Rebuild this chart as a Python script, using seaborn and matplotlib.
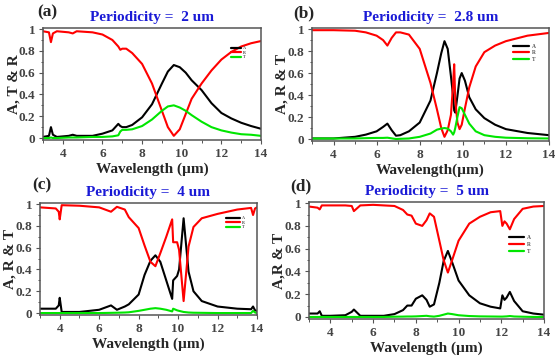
import numpy as np
import pandas as pd
import matplotlib
matplotlib.use('Agg')
import matplotlib.pyplot as plt
from matplotlib.ticker import MultipleLocator, AutoMinorLocator
import seaborn as sns

# ---- data ----
# (a) periodicity 2 um
wl_a = [3.0, 3.3, 3.4, 3.5, 3.7, 4.3, 4.5, 4.7, 5.5, 6.0, 6.5, 6.8, 6.9, 7.0, 7.2, 7.5,
        8.0, 8.5, 9.0, 9.3, 9.6, 9.9, 10.2, 10.5, 11.0, 11.5, 12.0, 12.5, 13.0, 13.5, 14.0]
A_a = [0.01, 0.02, 0.10, 0.03, 0.01, 0.02, 0.03, 0.02, 0.02, 0.04, 0.07, 0.13, 0.11, 0.10, 0.10, 0.12,
       0.19, 0.31, 0.50, 0.61, 0.67, 0.65, 0.60, 0.53, 0.44, 0.32, 0.23, 0.18, 0.14, 0.11, 0.085]
R_a = [0.98, 0.97, 0.88, 0.96, 0.98, 0.97, 0.96, 0.98, 0.97, 0.95, 0.90, 0.84, 0.81, 0.82, 0.82, 0.78,
       0.68, 0.50, 0.25, 0.10, 0.02, 0.08, 0.22, 0.36, 0.50, 0.62, 0.72, 0.79, 0.84, 0.87, 0.89]
T_a = [0.0, 0.0, 0.005, 0.0, 0.0, 0.005, 0.005, 0.005, 0.01, 0.01, 0.015, 0.025, 0.06, 0.075, 0.075, 0.08,
       0.11, 0.17, 0.25, 0.29, 0.30, 0.28, 0.25, 0.21, 0.15, 0.10, 0.07, 0.05, 0.035, 0.03, 0.02]

# (b) periodicity 2.8 um
wl_b = [3.0, 4.0, 5.0, 5.5, 6.0, 6.3, 6.5, 6.7, 6.9, 7.1, 7.5, 8.0, 8.5, 8.8, 9.0, 9.15,
        9.3, 9.45, 9.55, 9.6, 9.65, 9.75, 9.85, 9.95, 10.1, 10.3, 10.6, 11.0, 11.5, 12.0, 13.0, 14.0]
A_b = [0.005, 0.005, 0.02, 0.04, 0.07, 0.11, 0.14, 0.08, 0.03, 0.035, 0.07, 0.15, 0.35, 0.6, 0.78, 0.89,
       0.82, 0.57, 0.39, 0.26, 0.24, 0.39, 0.55, 0.60, 0.53, 0.38, 0.27, 0.19, 0.13, 0.09, 0.055, 0.035]
R_b = [0.99, 0.99, 0.985, 0.97, 0.94, 0.90, 0.85, 0.92, 0.97, 0.97, 0.95, 0.82, 0.51, 0.27, 0.10, 0.02,
       0.08, 0.22, 0.50, 0.68, 0.36, 0.15, 0.09, 0.13, 0.28, 0.47, 0.66, 0.79, 0.85, 0.89, 0.94, 0.965]
T_b = [0.005, 0.005, 0.005, 0.008, 0.01, 0.01, 0.012, 0.006, 0.0, 0.002, 0.005, 0.02, 0.05, 0.085, 0.095, 0.1,
       0.095, 0.07, 0.04, 0.06, 0.1, 0.2, 0.29, 0.28, 0.22, 0.14, 0.07, 0.035, 0.02, 0.012, 0.007, 0.005]

# (c) periodicity 4 um
wl_c = [3.0, 3.8, 3.95, 4.0, 4.1, 5.0, 6.0, 6.6, 6.9, 7.3, 7.5, 8.0, 8.3, 8.6, 8.85, 9.1,
        9.4, 9.7, 9.75, 9.95, 10.05, 10.28, 10.53, 10.78, 11.2, 12.0, 13.0, 13.7, 13.8, 13.9, 14.0]
A_c = [0.04, 0.04, 0.07, 0.14, 0.01, 0.01, 0.03, 0.07, 0.03, 0.06, 0.08, 0.17, 0.35, 0.48, 0.53, 0.47,
       0.30, 0.13, 0.30, 0.34, 0.40, 0.87, 0.38, 0.20, 0.11, 0.06, 0.04, 0.035, 0.06, 0.025, 0.02]
R_c = [0.97, 0.96, 0.93, 0.86, 0.99, 0.985, 0.97, 0.93, 0.975, 0.95, 0.88, 0.78, 0.62, 0.47, 0.43, 0.55,
       0.70, 0.86, 0.65, 0.65, 0.58, 0.11, 0.61, 0.79, 0.87, 0.91, 0.95, 0.965, 0.90, 0.96, 0.97]
T_c = [0.0, 0.0, 0.0, 0.0, 0.0, 0.0, 0.0, 0.002, 0.003, 0.005, 0.007, 0.02, 0.03, 0.04, 0.045, 0.04,
       0.03, 0.015, 0.04, 0.025, 0.02, 0.01, 0.005, 0.003, 0.002, 0.0, 0.0, 0.0, 0.02, 0.005, 0.0]

# (d) periodicity 5 um
wl_d = [3.0, 3.4, 3.5, 3.6, 4.0, 4.7, 5.0, 5.1, 5.4, 6.0, 6.5, 7.0, 7.4, 7.6, 7.8, 8.0, 8.3, 8.5, 8.65,
        8.85, 9.1, 9.3, 9.5, 9.7, 10.0, 10.5, 11.0, 11.5, 11.95, 12.05, 12.15, 12.25, 12.4, 12.6, 13.0, 13.5, 14.0]
A_d = [0.03, 0.03, 0.05, 0.01, 0.01, 0.015, 0.045, 0.065, 0.01, 0.01, 0.01, 0.025, 0.06, 0.1, 0.1, 0.16, 0.19, 0.15, 0.09,
       0.11, 0.3, 0.49, 0.58, 0.48, 0.32, 0.19, 0.12, 0.09, 0.075, 0.19, 0.15, 0.17, 0.22, 0.14, 0.05, 0.03, 0.02]
R_d = [0.97, 0.96, 0.945, 0.98, 0.98, 0.98, 0.975, 0.93, 0.98, 0.985, 0.98, 0.975, 0.94, 0.9, 0.89, 0.82, 0.8, 0.85, 0.91,
       0.88, 0.67, 0.5, 0.39, 0.5, 0.67, 0.82, 0.88, 0.92, 0.93, 0.8, 0.84, 0.82, 0.77, 0.86, 0.95, 0.97, 0.975]
T_d = [0.0, 0.0, 0.0, 0.0, 0.0, 0.0, 0.0, 0.0, 0.0, 0.0, 0.0, 0.002, 0.003, 0.004, 0.004, 0.005, 0.008, 0.01, 0.006,
       0.003, 0.01, 0.02, 0.03, 0.025, 0.015, 0.008, 0.005, 0.004, 0.003, 0.003, 0.004, 0.005, 0.008, 0.004, 0.002, 0.0, 0.0]

titles = ['Periodicity =  2 um', 'Periodicity =  2.8 um', 'Periodicity =  4 um', 'Periodicity =  5 um']
ylabels = ['A, T & R', 'A, R & T', 'A, R & T', 'A,R & T']
xlabels = ['Wavelength (µm)', 'Wavelength(µm)', 'Wavelength (µm)', 'Wavelength (µm)']
panel_tags = ['(a)', '(b)', '(c)', '(d)']

sns.set_theme(style='ticks')
plt.rcParams['font.family'] = ['Liberation Serif', 'DejaVu Serif']
plt.rcParams['font.weight'] = 'bold'

fig = plt.figure(figsize=(5.57, 3.62), dpi=100)
fig.patch.set_facecolor('white')

# axes boxes [left, bottom, width, height] in figure fraction
boxes = [[0.0772, 0.6133, 0.3914, 0.3094],
         [0.5601, 0.6105, 0.4255, 0.3122],
         [0.0718, 0.1298, 0.3896, 0.3094],
         [0.5548, 0.1188, 0.4219, 0.3232]]
# y label anchor (axes fraction, right edge of the rotated text)
ylab_x = [-0.105, -0.097, -0.11, -0.102]
# legend placement: (x, y top, fontsize, labelspacing, handlelength)
legs = [(0.862, 0.835, 3.0, 0.08, 2.4),
        (0.848, 0.86, 4.0, 0.25, 2.9),
        (0.858, 0.88, 3.0, 0.08, 3.3),
        (0.851, 0.72, 4.0, 0.35, 2.7)]
tag_pos = [(0.085, 0.965), (0.545, 0.963), (0.076, 0.488), (0.541, 0.486)]

data = [(wl_a, A_a, R_a, T_a), (wl_b, A_b, R_b, T_b),
        (wl_c, A_c, R_c, T_c), (wl_d, A_d, R_d, T_d)]

for i in range(4):
    ax = fig.add_axes(boxes[i])
    wl, A, R, T = data[i]
    df = pd.DataFrame({'wl': wl, 'A': A, 'R': R, 'T': T})
    sns.lineplot(data=df, x='wl', y='A', color='black', lw=1.5, label='A', ax=ax)
    sns.lineplot(data=df, x='wl', y='R', color='#ff0000', lw=1.5, label='R', ax=ax)
    sns.lineplot(data=df, x='wl', y='T', color='#00e600', lw=1.5, label='T', ax=ax)

    ax.set_xlim(3, 14)
    ax.set_ylim(-0.018, 1.01)
    ax.xaxis.set_major_locator(MultipleLocator(2))
    ax.xaxis.set_minor_locator(MultipleLocator(1))
    ax.yaxis.set_major_locator(MultipleLocator(0.2))
    ax.yaxis.set_minor_locator(AutoMinorLocator(2))
    ax.set_yticks([0, 0.2, 0.4, 0.6, 0.8, 1.0])
    ax.set_yticklabels(['0', '0.2', '0.4', '0.6', '0.8', '1'])
    ax.tick_params(which='major', direction='out', length=3, width=0.8, color='#555555',
                   labelsize=9.5, labelcolor='#444444', pad=2.5)
    ax.tick_params(which='minor', direction='out', length=1.8, width=0.7, color='#555555')
    for lab in ax.get_xticklabels() + ax.get_yticklabels():
        lab.set_fontweight('bold')
    for s in ax.spines.values():
        s.set_color('#555555')
        s.set_linewidth(1.1)

    ax.set_xlabel(xlabels[i], fontsize=11, fontweight='bold', labelpad=2)
    ax.set_ylabel(ylabels[i], fontsize=11, fontweight='bold')
    ax.yaxis.set_label_coords(ylab_x[i], 0.5)
    ax.set_title(titles[i], fontsize=11, fontweight='bold', color='#1a1ad6', pad=5)

    lx, ly, fs, lsp, hl = legs[i]
    leg = ax.legend(loc='upper left', bbox_to_anchor=(lx, ly), frameon=False, fontsize=fs,
                    labelspacing=lsp, handlelength=hl, handletextpad=0.6, borderpad=0,
                    borderaxespad=0)
    for h in leg.get_lines():
        h.set_linewidth(1.6)
    for t in leg.get_texts():
        t.set_color('#555555')

    fig.text(tag_pos[i][0], tag_pos[i][1], panel_tags[i], fontsize=12.5, fontweight='bold',
             ha='center', va='center')

fig.savefig('out.png', dpi=100)
